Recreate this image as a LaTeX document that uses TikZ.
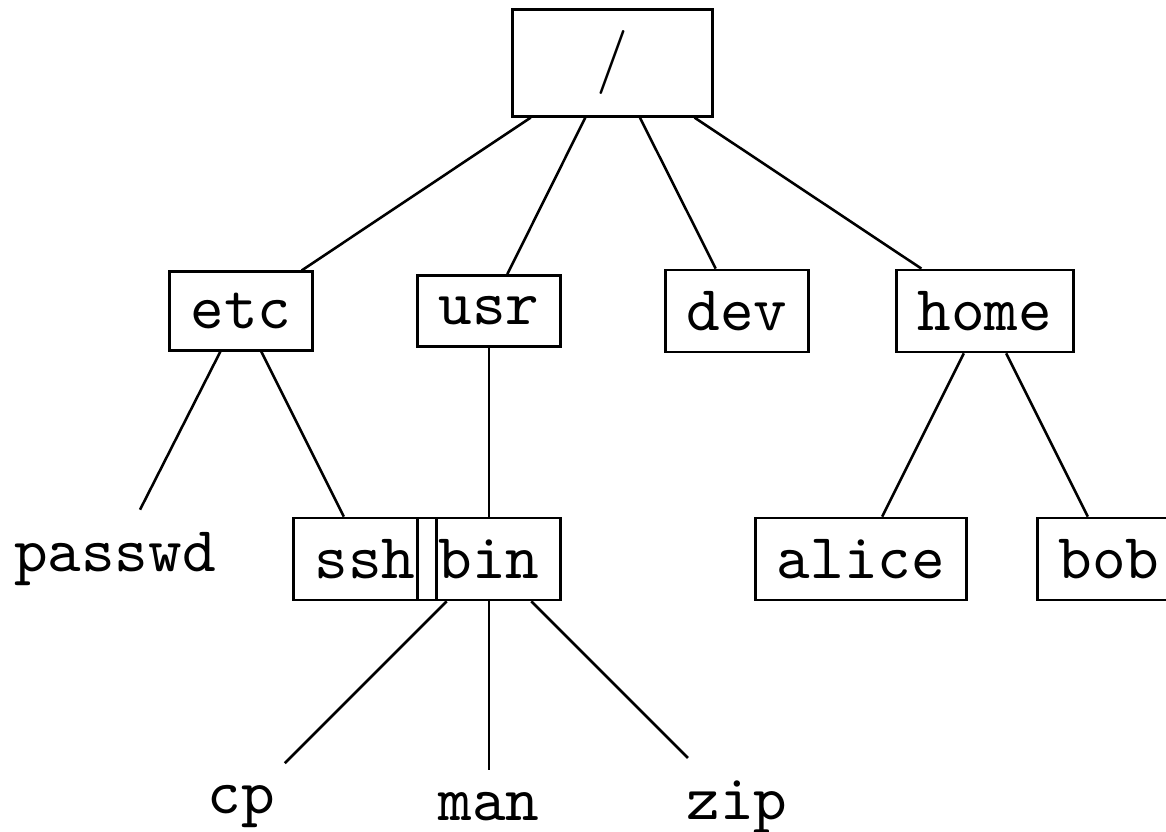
\documentclass[tikz,border=0pt]{standalone}
\begin{document}
\begin{tikzpicture}[x=0.15625pt, y=-0.15625pt,
  every node/.style={font=\ttfamily},
  dirbox/.style={draw, rectangle},
  rootbox/.style={draw, rectangle, minimum width=31.3pt, minimum height=16.4pt},
  filename/.style={rectangle},
  branch/.style={draw}]
\useasboundingbox (0,0) rectangle (1166,832);

% root directory
\node[rootbox] (root) at (612.5,63) {$/$};

% first level
\node[dirbox] (etc)  at (241,311) {etc};
\node[dirbox] (usr)  at (489,311) {usr};
\node[dirbox] (dev)  at (737,311) {dev};
\node[dirbox] (home) at (985,311) {home};

% second level
\node[filename] (passwd) at (115,559) {passwd};
\node[dirbox] (ssh)   at (365,559) {ssh};
\node[dirbox] (bin)   at (489,559) {bin};
\node[dirbox] (alice) at (861,559) {alice};
\node[dirbox] (bob)   at (1109,559) {bob};

% third level
\node[filename] (cp)  at (241,807) {cp};
\node[filename] (man) at (489,807) {man};
\node[filename] (zip) at (737,807) {zip};

% branches
\draw[branch] (root) -- (etc);
\draw[branch] (root) -- (usr);
\draw[branch] (root) -- (dev);
\draw[branch] (root) -- (home);
\draw[branch] (etc) -- (passwd);
\draw[branch] (etc) -- (ssh);
\draw[branch] (usr) -- (bin);
\draw[branch] (home) -- (alice);
\draw[branch] (home) -- (bob);
\draw[branch] (bin) -- (cp);
\draw[branch] (bin) -- (man);
\draw[branch] (bin) -- (zip);
\end{tikzpicture}
\end{document}
